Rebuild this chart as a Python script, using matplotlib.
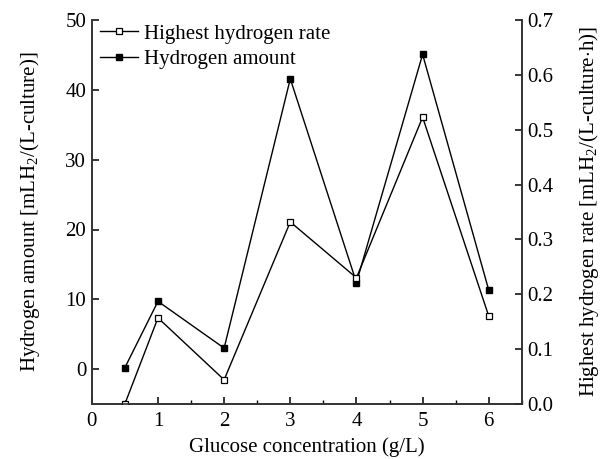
import matplotlib
matplotlib.use('Agg')
import matplotlib.pyplot as plt
from matplotlib.ticker import MultipleLocator, FormatStrFormatter

# Data
glucose = [0.5, 1, 2, 3, 4, 5, 6]
hydrogen_amount = [0.2, 9.7, 3.0, 41.6, 12.4, 45.1, 11.3]
highest_rate = [0.0, 0.157, 0.044, 0.332, 0.23, 0.523, 0.160]

plt.rcParams['font.family'] = ['Liberation Serif', 'DejaVu Serif']
plt.rcParams['mathtext.fontset'] = 'custom'
plt.rcParams['mathtext.rm'] = 'Liberation Serif'
plt.rcParams['font.size'] = 15

fig = plt.figure(figsize=(6.04, 4.59), dpi=100)
ax = fig.add_axes([0.152, 0.120, 0.712, 0.836])
ax2 = ax.twinx()

# Left axis: hydrogen amount (filled squares)
l2, = ax.plot(glucose, hydrogen_amount, color='black', lw=1.0,
              marker='s', ms=3.8, mfc='black', mec='black')
# Right axis: highest hydrogen rate (open squares)
l1, = ax2.plot(glucose, highest_rate, color='black', lw=1.0,
               marker='s', ms=3.8, mfc='white', mec='black', mew=0.9)

ax.set_xlim(0, 6.5)
ax.set_ylim(-5, 50)
ax2.set_ylim(0, 0.7)

ax.xaxis.set_major_locator(MultipleLocator(1))
ax.xaxis.set_minor_locator(MultipleLocator(0.5))
ax.yaxis.set_major_locator(MultipleLocator(10))
ax2.yaxis.set_major_locator(MultipleLocator(0.1))
ax2.yaxis.set_major_formatter(FormatStrFormatter('%.1f'))

for a in (ax, ax2):
    a.spines['top'].set_visible(False)
    for s in a.spines.values():
        s.set_linewidth(1.2)
        s.set_color('#333333')
    a.tick_params(which='major', direction='in', length=5, width=1.1, pad=4)
    a.tick_params(which='minor', direction='in', length=3, width=1.0)
ax.tick_params(axis='x', which='major', pad=6)

ax.set_xlabel('Glucose concentration (g/L)', labelpad=4)
ax.set_ylabel('Hydrogen amount [mLH$_2$/(L-culture)]', labelpad=17)
ax2.set_ylabel('Highest hydrogen rate [mLH$_2$/(L-culture$\\cdot$h)]', labelpad=17)

ax.legend([l1, l2], ['Highest hydrogen rate', 'Hydrogen amount'],
          loc='upper left', frameon=False, handlelength=1.8,
          handletextpad=0.3, borderaxespad=0.0, labelspacing=0.3,
          bbox_to_anchor=(0.0, 1.012))

fig.savefig('out.png', dpi=100)
